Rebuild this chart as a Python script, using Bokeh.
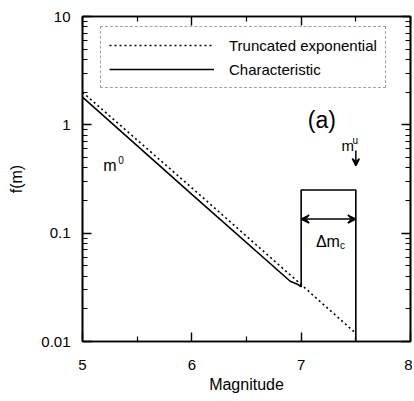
from bokeh.plotting import figure
from bokeh.models import (Legend, LegendItem, Label, Arrow, LinearAxis, LogAxis,
                          VeeHead, Range1d, FixedTicker)
from bokeh.embed import file_html
from bokeh.resources import INLINE

# ---- data ----
trunc_m = [5.0, 6.0, 7.0, 7.5]
trunc_f = [2.0, 0.262, 0.0335, 0.0119]

char_m = [5.0, 6.0, 6.9, 6.96, 7.0, 7.0, 7.5, 7.5]
char_f = [1.80, 0.228, 0.036, 0.034, 0.032, 0.25, 0.25, 0.01]

x_ticks = [5, 6, 7, 8]
x_minor = [5.5, 6.5, 7.5]
y_ticks = [0.01, 0.1, 1, 10]
y_tick_labels = ["0.01", "0.1", "1", "10"]
y_minor = [k * d for d in [0.01, 0.1, 1] for k in range(2, 10)]

FONT = "Liberation Sans"

p = figure(width=412, height=395, output_backend="svg", toolbar_location=None,
           y_axis_type="log", x_range=Range1d(5, 8), y_range=Range1d(0.01, 10),
           min_border_left=82, min_border_right=2, min_border_top=16, min_border_bottom=10)
p.grid.visible = False
p.outline_line_color = "black"
p.outline_line_width = 1.6
p.background_fill_color = "white"
p.border_fill_color = "white"

l_tr = p.line(trunc_m, trunc_f, line_color="black", line_width=1.6, line_dash="2 3")
l_ch = p.line(char_m, char_f, line_color="black", line_width=1.6)

def style(ax):
    ax.axis_line_width = 1.6
    ax.axis_line_color = "black"
    ax.major_tick_in = 9
    ax.major_tick_out = 0
    ax.minor_tick_in = 5
    ax.minor_tick_out = 0
    ax.major_tick_line_width = 1.4
    ax.minor_tick_line_width = 1.2
    ax.major_tick_line_color = "black"
    ax.minor_tick_line_color = "black"
    ax.major_label_text_font = FONT
    ax.major_label_text_font_size = "15px"
    ax.major_label_text_color = "black"
    ax.axis_label_text_font = FONT
    ax.axis_label_text_font_size = "16px"
    ax.axis_label_text_font_style = "normal"
    ax.axis_label_text_color = "black"

xa = p.xaxis[0]
xa.ticker = FixedTicker(ticks=x_ticks, minor_ticks=x_minor)
xa.axis_label = "Magnitude"
xa.major_label_standoff = 18
xa.axis_label_standoff = 3
style(xa)

ya = p.yaxis[0]
ya.ticker = FixedTicker(ticks=y_ticks, minor_ticks=y_minor)
ya.axis_label = "f(m)"
ya.major_label_overrides = {t: s for t, s in zip(y_ticks, y_tick_labels)}
ya.major_label_standoff = 12
ya.axis_label_standoff = 13
style(ya)

# mirrored tick marks on the top and right edges, without labels
top = LinearAxis(ticker=FixedTicker(ticks=x_ticks, minor_ticks=x_minor))
style(top)
top.major_label_overrides = {t: "" for t in x_ticks}
top.major_label_text_color = None
top.major_label_text_font_size = "10px"
top.major_label_standoff = 0
p.add_layout(top, "above")

right = LogAxis(ticker=FixedTicker(ticks=y_ticks, minor_ticks=y_minor))
style(right)
right.major_label_overrides = {t: "" for t in y_ticks}
right.major_label_text_color = None
right.major_label_text_font_size = "10px"
right.major_label_standoff = 0
p.add_layout(right, "right")

# legend
legend = Legend(items=[LegendItem(label="Truncated exponential", renderers=[l_tr]),
                       LegendItem(label="Characteristic", renderers=[l_ch])],
                location=(18, 253))
legend.label_text_font = FONT
legend.label_text_font_size = "15px"
legend.label_text_color = "black"
legend.glyph_width = 105
legend.glyph_height = 20
legend.label_height = 20
legend.label_standoff = 15
legend.padding = 8
legend.spacing = 4
legend.margin = 0
legend.border_line_color = "#444444"
legend.border_line_dash = "8 3"
legend.border_line_width = 1
legend.background_fill_alpha = 0
p.add_layout(legend, "center")

# annotations
def lab(x, y, t, size):
    p.add_layout(Label(x=x, y=y, text=t, text_font=FONT, text_font_size=size,
                       text_color="black", text_baseline="alphabetic"))

lab(7.06, 1.10, "(a)", "23px")
lab(5.19, 0.425, "m", "16px")
lab(5.327, 0.472, "0", "10px")
lab(7.37, 0.64, "m", "15px")
lab(7.47, 0.72, "u", "10px")
lab(7.135, 0.083, "Δm", "16px")
lab(7.355, 0.0764, "c", "10px")

p.add_layout(Arrow(x_start=7.5, y_start=0.58, x_end=7.5, y_end=0.42,
                   line_width=1.5, line_color="black",
                   end=VeeHead(size=7, line_width=1.5, line_color="black")))
p.add_layout(Arrow(x_start=7.0, y_start=0.135, x_end=7.5, y_end=0.135,
                   line_width=1.5, line_color="black",
                   start=VeeHead(size=8, line_width=1.5, line_color="black"),
                   end=VeeHead(size=8, line_width=1.5, line_color="black")))

open("out.html", "w").write(file_html(p, INLINE))
